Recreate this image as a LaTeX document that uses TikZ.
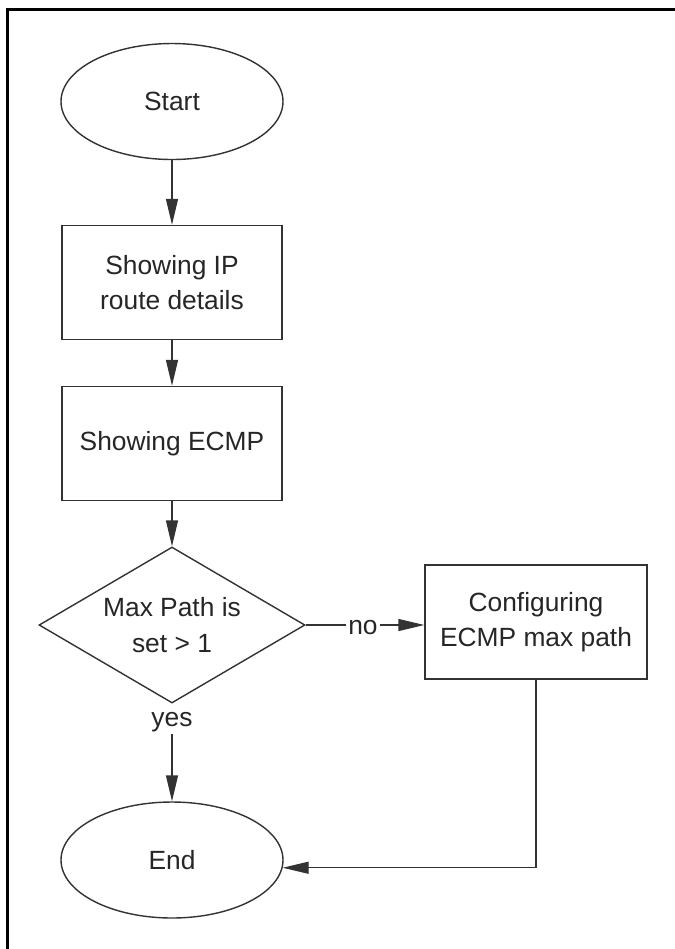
\documentclass[tikz,border=0pt]{standalone}
\usepackage{fontspec}
\setmainfont{Liberation Sans}
\usepackage{tikz}
\usetikzlibrary{arrows.meta, shapes.geometric, positioning}

\begin{document}
\begin{tikzpicture}[
    >=Stealth, font=\fontsize{15}{20}\selectfont,
    term/.style={ellipse, draw=black!80, line width=0.8pt, fill=white,
                 align=center, minimum width=4.44cm, minimum height=2.32cm,
                 text=black!85},
    pbox/.style={rectangle, draw=black!80, line width=0.8pt, fill=white,
                 align=center, minimum width=4.4cm, minimum height=2.28cm,
                 text=black!85},
    dec/.style={diamond, draw=black!80, line width=0.8pt, fill=white,
                align=center, aspect=1.7, inner sep=0pt,
                minimum width=5.32cm, minimum height=3.12cm, text=black!85},
    lbl/.style={inner sep=1pt, text=black!85},
    a/.style={-{Triangle[length=0.52cm, width=0.24cm]}, line width=0.8pt, draw=black!80},
    l/.style={line width=0.8pt, draw=black!80}
]
\useasboundingbox (0,0) rectangle (13.5,-18.98);

% page frame
\coordinate (fbl) at (0.15,-19.5);
\coordinate (ftl) at (0.15,-0.18);
\coordinate (ftr) at (14,-0.18);
\draw[line width=1.7pt] (fbl) -- (ftl) -- (ftr);

\node[term] (start) at (3.44, -2.03) {Start};
\node[pbox] (iproute) at (3.44, -5.65) {Showing IP\\route details};
\node[pbox] (ecmp) at (3.44, -8.87) {Showing ECMP};
\node[dec] (maxpath) at (3.44, -12.5) {Max Path is\\set > 1};
\node[pbox, minimum width=4.44cm] (cfg) at (10.72, -12.44)
    {Configuring\\ECMP max path};
\node[term] (endn) at (3.44, -17.2) {End};

\node[lbl] (nolbl) at (7.26, -12.55) {no};
\node[lbl] (yeslbl) at (3.44, -14.44) {yes};

\draw[a] (start.south) -- (iproute.north);
\draw[a] (iproute.south) -- (ecmp.north);
\draw[a] (ecmp.south) -- (maxpath.north);
\draw[l] (maxpath.east) -- (maxpath.east -| nolbl.west);
\draw[a] (maxpath.east -| nolbl.east) -- (maxpath.east -| cfg.west);
\draw[a] (yeslbl.south) -- (endn.north);
\draw[a] (cfg.south) |- (endn.-4);
\end{tikzpicture}
\end{document}
